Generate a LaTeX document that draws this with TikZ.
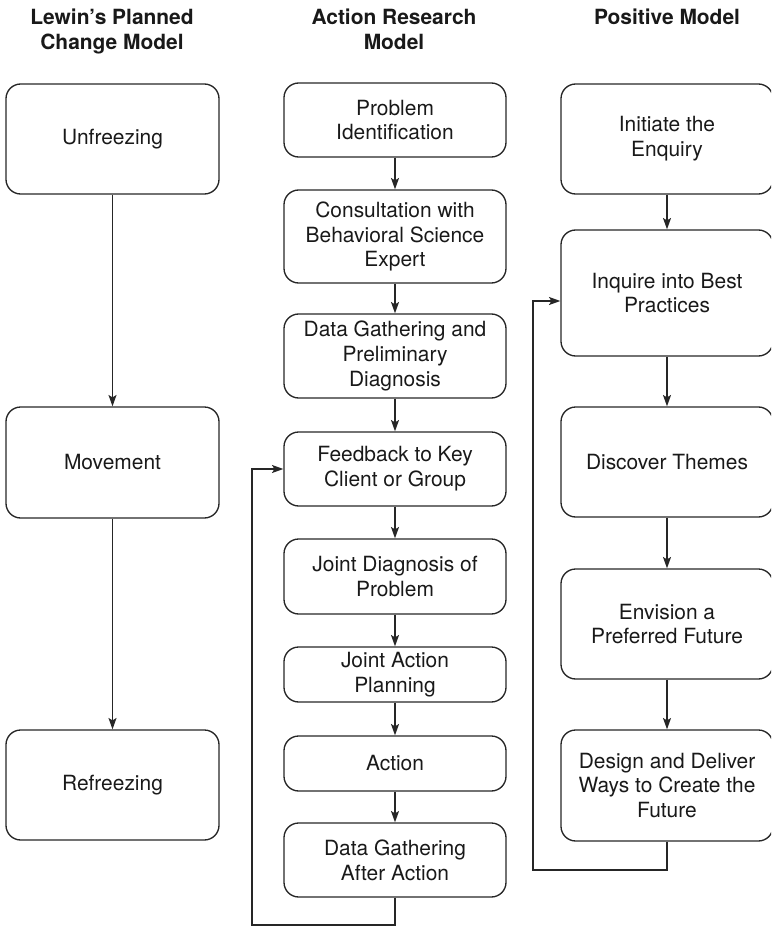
\documentclass[tikz,border=0pt]{standalone}
\usepackage{fontspec}
\setmainfont{TeX Gyre Heros}
\usetikzlibrary{arrows.meta}
\begin{document}
\begin{tikzpicture}[x=0.75pt,y=-0.75pt,
  box/.style 2 args={draw=black!85, line width=1pt, rounded corners=11pt, align=center,
    minimum width=#1*0.75pt, minimum height=#2*0.75pt, inner sep=0pt,
    font=\fontsize{15.7}{18.6}\selectfont, text=black!90},
  head/.style={align=center, anchor=north, inner sep=0pt,
    font=\fontsize{15.7}{18.6}\selectfont\bfseries, text=black!90},
  arr/.style={draw=black!85, line width=1pt, -{Stealth[length=8.5pt,width=6pt,inset=1.8pt]}},
  ln/.style={draw=black!85, line width=1pt}]
\useasboundingbox (0,0) rectangle (771,927);
\clip (0,0) rectangle (771,927);
% headers
\node[head] (h1) at (112,9) {Lewin’s Planned\\Change Model};
\node[head] (h2) at (394,9) {Action Research\\Model};
\node[head] (h3) at (667,9) {Positive Model};
% left column
\node[box={213}{110}] (u) at (112.5,139) {Unfreezing};
\node[box={213}{111}] (m) at (112.5,462.5) {Movement};
\node[box={213}{110}] (r) at (112.5,785) {Refreezing};
% center column
\node[box={222}{74}] (c1) at (395,120) {Problem\\Identification};
\node[box={222}{93}] (c2) at (395,236.5) {Consultation with\\Behavioral Science\\Expert};
\node[box={222}{84}] (c3) at (395,356) {Data Gathering and\\Preliminary\\Diagnosis};
\node[box={222}{74}] (c4) at (395,469) {Feedback to Key\\Client or Group};
\node[box={222}{75}] (c5) at (395,576.5) {Joint Diagnosis of\\Problem};
\node[box={222}{55}] (c6) at (395,674.5) {Joint Action\\Planning};
\node[box={222}{55}] (c7) at (395,763.5) {Action};
\node[box={222}{74}] (c8) at (395,860) {Data Gathering\\After Action};
% right column
\node[box={212}{110}] (p1) at (667,139) {Initiate the\\Enquiry};
\node[box={212}{126}] (p2) at (667,293) {Inquire into Best\\Practices};
\node[box={212}{110}] (p3) at (667,462) {Discover Themes};
\node[box={212}{110}] (p4) at (667,624) {Envision a\\Preferred Future};
\node[box={212}{111}] (p5) at (667,785.5) {Design and Deliver\\Ways to Create the\\Future};
% arrows
\draw[arr] (u) -- (m);
\draw[arr] (m) -- (r);
\draw[arr] (c1) -- (c2);
\draw[arr] (c2) -- (c3);
\draw[arr] (c3) -- (c4);
\draw[arr] (c4) -- (c5);
\draw[arr] (c5) -- (c6);
\draw[arr] (c6) -- (c7);
\draw[arr] (c7) -- (c8);
\draw[arr] (p1) -- (p2);
\draw[arr] (p2) -- (p3);
\draw[arr] (p3) -- (p4);
\draw[arr] (p4) -- (p5);
% loops
\coordinate (lc1) at (395,925);
\coordinate (lc2) at (252,925);
\draw[arr] (c8.south) -- (lc1) -- (lc2) |- (c4.west);
\coordinate (lp1) at (667,870);
\coordinate (lp2) at (533,870);
\coordinate (lp3) at (533,301);
\draw[arr] (p5.south) -- (lp1) -- (lp2) -- (lp3) -- (lp3 -| p2.west);
\end{tikzpicture}
\end{document}
